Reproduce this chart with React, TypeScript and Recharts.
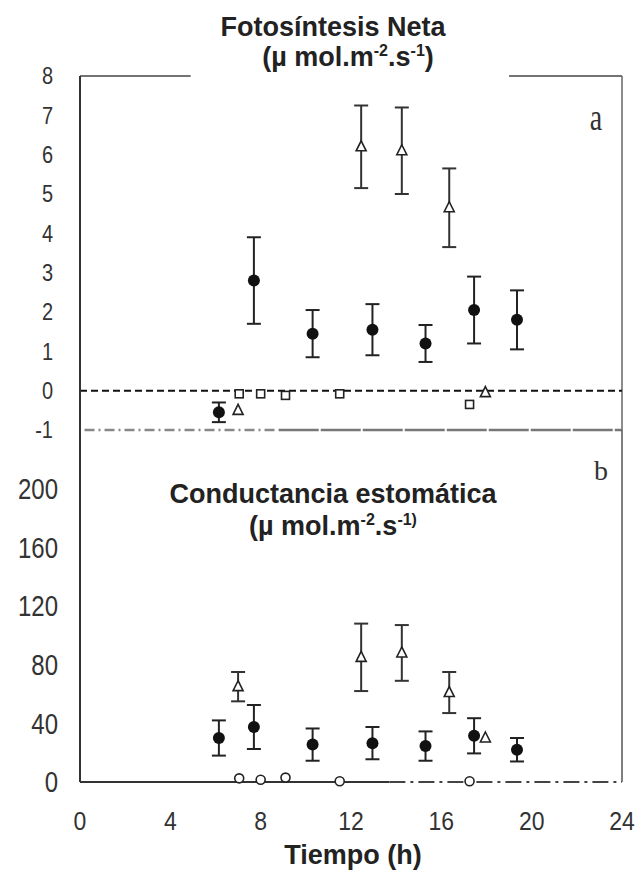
import { ScatterChart, Scatter, XAxis, YAxis, ErrorBar, ReferenceLine } from 'recharts'

// Tiempo (h) for each series
const circleHours = [6.15, 7.7, 10.3, 12.95, 15.3, 17.45, 19.35]
const triangleHours = [7.0, 12.45, 14.25, 16.35, 17.95]
const squareHours = [7.05, 8.0, 9.1, 11.5, 17.25]

// a) Fotosintesis neta
const circleNeta = [-0.55, 2.8, 1.45, 1.55, 1.2, 2.05, 1.8]
const circleNetaErr = [0.25, 1.1, 0.6, 0.65, 0.47, 0.85, 0.75]
const triangleNeta = [-0.5, 6.2, 6.1, 4.65, -0.05]
const triangleNetaErr = [0, 1.05, 1.1, 1.0, 0]
const squareNeta = [-0.08, -0.08, -0.12, -0.08, -0.35]

// b) Conductancia estomatica
const circleCond = [30, 37.5, 25.5, 26.5, 24.5, 31.5, 22]
const circleCondErr = [12, 15, 11, 11, 10, 12, 8]
const triangleCond = [65, 85, 88, 61, 30]
const triangleCondErr = [10, 23, 19, 14, 0]
const squareCond = [2.5, 1.5, 3, 0.5, 0.5]

const xTicks = [0, 4, 8, 12, 16, 20, 24]
const netaTicks = [-1, 0, 1, 2, 3, 4, 5, 6, 7, 8]
const condTicks = [0, 40, 80, 120, 160, 200]

const toPoints = (xs: number[], ys: number[], errs?: number[]) =>
  xs.map((x, i) => ({ x, y: ys[i], err: errs ? errs[i] : 0 }))

const FONT = "'Liberation Sans', Arial, sans-serif"

const DotShape = (p: any) => <circle cx={p.cx} cy={p.cy} r={6} fill="#111" />
const TriShape = (p: any) => (
  <path
    d={`M${p.cx},${p.cy - 6} L${p.cx + 5},${p.cy + 4} L${p.cx - 5},${p.cy + 4} Z`}
    fill="#fff"
    stroke="#222"
    strokeWidth={1.6}
  />
)
const SquareShape = (p: any) => (
  <rect x={p.cx - 4} y={p.cy - 4} width={8} height={8} fill="#fff" stroke="#222" strokeWidth={1.6} />
)
const RingShape = (p: any) => <circle cx={p.cx} cy={p.cy} r={4.5} fill="#fff" stroke="#222" strokeWidth={1.6} />

const NetaTick = (p: any) => (
  <text
    transform={`translate(53, ${p.y}) scale(1, 1.15)`}
    textAnchor="end"
    dy="0.36em"
    fontSize={20}
    fontFamily={FONT}
    fill="#333"
  >
    {p.payload.value}
  </text>
)

const CondTick = (p: any) => (
  <text
    transform={`translate(58, ${p.y}) scale(1, 1.2)`}
    textAnchor="end"
    dy="0.36em"
    fontSize={24}
    fontFamily={FONT}
    fill="#333"
  >
    {p.payload.value}
  </text>
)

const TimeTick = (p: any) => (
  <text
    transform={`translate(${p.x}, 390) scale(1, 1.15)`}
    textAnchor="middle"
    dy="0.36em"
    fontSize={23}
    fontFamily={FONT}
    fill="#333"
  >
    {p.payload.value}
  </text>
)

export default function App() {
  return (
    <div style={{ position: 'absolute', left: 0, top: 0, width: 638, height: 873, background: '#fff' }}>
      <div style={{ position: 'absolute', left: 0, top: 0 }}>
        <ScatterChart width={638} height={452} margin={{ top: 76, right: 16, bottom: 22, left: 0 }}>
          <XAxis type="number" dataKey="x" domain={[0, 24]} hide />
          <YAxis
            type="number"
            dataKey="y"
            domain={[-1, 8]}
            ticks={netaTicks}
            width={80}
            tickLine={false}
            axisLine={{ stroke: '#333', strokeWidth: 2 }}
            tick={NetaTick}
          />
          <ReferenceLine segment={[{ x: 0, y: 8 }, { x: 4.9, y: 8 }]} stroke="#444" strokeWidth={1.5} />
          <ReferenceLine segment={[{ x: 19.0, y: 8 }, { x: 24, y: 8 }]} stroke="#444" strokeWidth={1.5} />
          <ReferenceLine x={24} stroke="#666" strokeWidth={1.5} />
          <ReferenceLine y={0} stroke="#111" strokeWidth={2} strokeDasharray="7 4" />
          <ReferenceLine
            segment={[{ x: 0.2, y: -1 }, { x: 8.8, y: -1 }]}
            stroke="#888"
            strokeWidth={2.5}
            strokeDasharray="10 4 2 4"
          />
          <ReferenceLine
            segment={[{ x: 8.8, y: -1 }, { x: 24, y: -1 }]}
            stroke="#777"
            strokeWidth={2.5}
            strokeDasharray="40 2"
          />
          <Scatter data={toPoints(squareHours, squareNeta)} shape={SquareShape} isAnimationActive={false} />
          <Scatter data={toPoints(triangleHours, triangleNeta, triangleNetaErr)} shape={TriShape} isAnimationActive={false}>
            <ErrorBar dataKey="err" direction="y" width={7} stroke="#333" strokeWidth={2} />
          </Scatter>
          <Scatter data={toPoints(circleHours, circleNeta, circleNetaErr)} shape={DotShape} isAnimationActive={false}>
            <ErrorBar dataKey="err" direction="y" width={7} stroke="#222" strokeWidth={2} />
          </Scatter>
        </ScatterChart>
      </div>

      <div style={{ position: 'absolute', left: 0, top: 430 }}>
        <ScatterChart width={638} height={443} margin={{ top: 0, right: 16, bottom: 31, left: 0 }}>
          <XAxis
            type="number"
            dataKey="x"
            domain={[0, 24]}
            ticks={xTicks}
            height={60}
            tickLine={false}
            axisLine={false}
            tick={TimeTick}
          />
          <YAxis
            type="number"
            dataKey="y"
            domain={[0, 240]}
            ticks={condTicks}
            width={80}
            tickLine={false}
            axisLine={{ stroke: '#333', strokeWidth: 2 }}
            tick={CondTick}
          />
          <ReferenceLine x={24} stroke="#555" strokeWidth={1.5} />
          <ReferenceLine segment={[{ x: 0, y: 0 }, { x: 13.7, y: 0 }]} stroke="#333" strokeWidth={2} />
          <ReferenceLine
            segment={[{ x: 13.7, y: 0 }, { x: 24, y: 0 }]}
            stroke="#444"
            strokeWidth={2}
            strokeDasharray="16 5 3 5"
          />
          <Scatter data={toPoints(squareHours, squareCond)} shape={RingShape} isAnimationActive={false} />
          <Scatter data={toPoints(triangleHours, triangleCond, triangleCondErr)} shape={TriShape} isAnimationActive={false}>
            <ErrorBar dataKey="err" direction="y" width={7} stroke="#333" strokeWidth={2} />
          </Scatter>
          <Scatter data={toPoints(circleHours, circleCond, circleCondErr)} shape={DotShape} isAnimationActive={false}>
            <ErrorBar dataKey="err" direction="y" width={7} stroke="#222" strokeWidth={2} />
          </Scatter>
        </ScatterChart>
      </div>

      <svg
        width={638}
        height={873}
        style={{ position: 'absolute', left: 0, top: 0, pointerEvents: 'none' }}
      >
        <g fontFamily={FONT} fontWeight="bold" fill="#222" textAnchor="middle">
          <text x={333} y={36} fontSize={27}>Fotosíntesis Neta</text>
          <text x={348} y={66} fontSize={27}>
            (µ mol.m<tspan dy={-10} fontSize={16}>-2</tspan>
            <tspan dy={10}>.s</tspan>
            <tspan dy={-10} fontSize={16}>-1</tspan>
            <tspan dy={10}>)</tspan>
          </text>
          <text x={333} y={503} fontSize={27}>Conductancia estomática</text>
          <text x={333} y={535} fontSize={27}>
            (µ mol.m<tspan dy={-10} fontSize={16}>-2</tspan>
            <tspan dy={10}>.s</tspan>
            <tspan dy={-10} fontSize={16}>-1)</tspan>
          </text>
          <text x={353} y={864} fontSize={27}>Tiempo (h)</text>
        </g>
        <text
          transform="translate(596, 130) scale(1, 1.35)"
          textAnchor="middle"
          fontFamily="'Liberation Serif', 'Times New Roman', serif"
          fontSize={28}
          fill="#333"
        >
          a
        </text>
        <text
          x={601}
          y={480}
          textAnchor="middle"
          fontFamily="'Liberation Serif', 'Times New Roman', serif"
          fontSize={28}
          fill="#333"
        >
          b
        </text>
      </svg>
    </div>
  )
}
